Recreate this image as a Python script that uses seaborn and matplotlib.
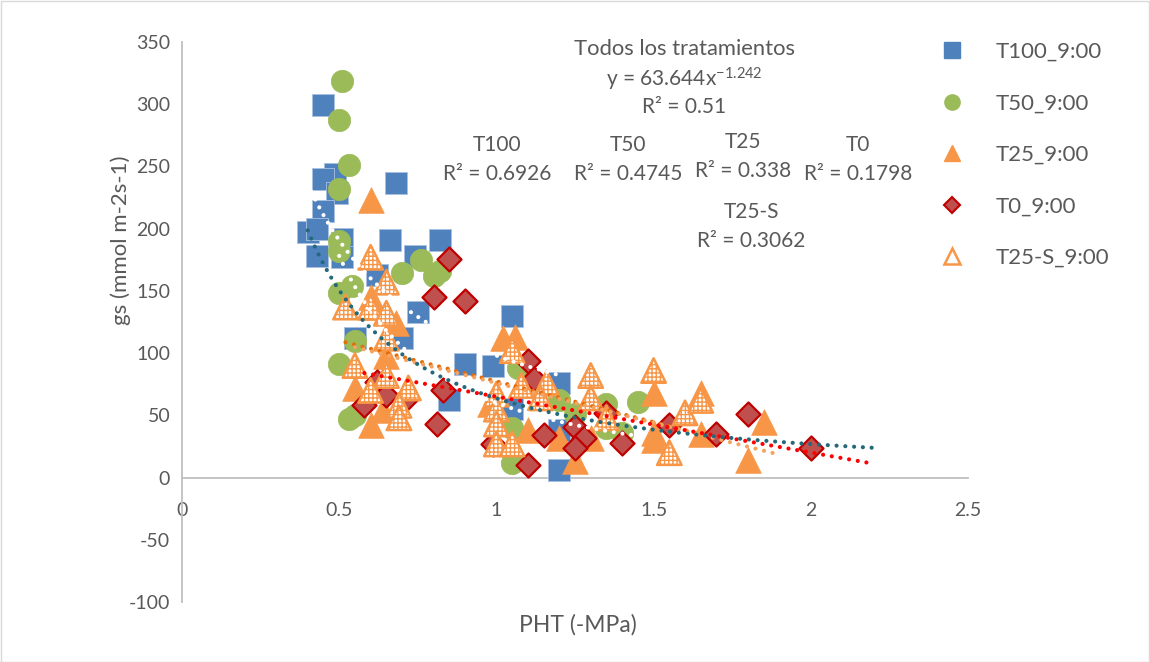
import numpy as np
import matplotlib
matplotlib.use("Agg")
import matplotlib.pyplot as plt
import seaborn as sns
from matplotlib.lines import Line2D
from matplotlib.patches import Rectangle

# ---- measured gs vs. PHT, one pair of lists per treatment ----
t100_x = [0.45, 0.486, 0.448, 0.492, 0.68, 0.448, 0.40, 0.43, 0.43, 0.51, 0.51, 0.66, 0.82,
          0.74, 0.62, 0.75, 0.55, 0.70, 0.90, 0.85, 0.99, 1.05, 1.05, 1.20, 1.20, 1.20]
t100_y = [299, 244, 240, 229, 237, 214, 197, 200, 178, 192, 177, 191, 191,
          178, 163, 133, 112, 112, 91, 62, 90, 130, 55, 76, 38, 6]

t50_x = [0.51, 0.50, 0.53, 0.50, 0.50, 0.50, 0.54, 0.50, 0.70, 0.76, 0.80, 0.82, 0.55,
         0.50, 0.55, 0.53, 1.07, 1.05, 1.05, 1.20, 1.25, 1.35, 1.35, 1.40, 1.45]
t50_y = [319, 287, 251, 232, 190, 182, 154, 148, 164, 175, 162, 166, 110,
         91, 50, 47, 88, 40, 12, 62, 51, 59, 40, 36, 61]

t25_x = [0.60, 0.60, 0.60, 0.68, 0.65, 0.55, 0.64, 0.60, 1.02, 1.06, 0.98, 1.10, 1.20,
         1.25, 1.30, 1.50, 1.50, 1.50, 1.65, 1.65, 1.80, 1.85]
t25_y = [223, 145, 137, 124, 98, 72, 54, 42, 112, 113, 59, 38, 32,
         13, 32, 68, 36, 30, 68, 35, 14, 45]

t0_x = [0.85, 0.80, 0.90, 0.62, 0.65, 0.58, 0.71, 0.83, 0.81, 1.10, 1.12, 0.99, 1.10, 1.15,
        1.25, 1.28, 1.25, 1.35, 1.40, 1.55, 1.70, 1.80, 2.00]
t0_y = [176, 145, 142, 77, 66, 58, 62, 70, 43, 94, 79, 27, 10, 34,
        41, 32, 24, 52, 28, 42, 35, 51, 24]

t25s_x = [0.60, 0.65, 0.52, 0.60, 0.65, 0.65, 0.55, 0.65, 0.60, 0.72, 0.69, 0.69,
          1.05, 1.00, 1.00, 1.00, 1.00, 1.05, 1.08, 1.16, 1.14, 1.30, 1.30, 1.35,
          1.50, 1.55, 1.60, 1.65]
t25s_y = [177, 157, 137, 137, 132, 112, 90, 82, 70, 72, 58, 48,
          102, 67, 55, 43, 27, 27, 74, 76, 64, 82, 64, 48,
          86, 20, 52, 62]

series_labels = ["T100_9:00", "T50_9:00", "T25_9:00", "T0_9:00", "T25-S_9:00"]

# ---- trend lines (coefficients as reported / fitted in the workbook) ----
all_coef, all_exp = 63.644, -1.242          # y = 63.644 x^-1.242, all treatments
all_range = (0.40, 2.20)
t100_pow = (98.0, -0.96, 0.40, 1.20)        # a, b, x0, x1
t50_pow = (60.0, -1.57, 0.50, 1.45)
t25_lin = (140.0, -64.0, 0.55, 1.90)        # intercept, slope, x0, x1
t25s_lin = (142.8, -65.5, 0.52, 1.65)
t0_lin = (110.1, -45.0, 0.58, 2.20)

x_ticks = [0, 0.5, 1, 1.5, 2, 2.5]
x_tick_labels = ["0", "0.5", "1", "1.5", "2", "2.5"]
y_ticks = [-100, -50, 0, 50, 100, 150, 200, 250, 300, 350]

# ---- style ----
sns.set_theme(style="white")
plt.rcParams['font.family'] = ['Lato', 'DejaVu Sans']
plt.rcParams['mathtext.fontset'] = 'custom'
plt.rcParams['mathtext.rm'] = 'Lato'
plt.rcParams['mathtext.default'] = 'regular'
plt.rcParams['axes.unicode_minus'] = False

TXT = "#595959"
AXC = "#BFBFBF"
BLUE = "#4F81BD"
GREEN = "#9BBB59"
ORANGE = "#F79646"
DORANGE = "#E46C0A"
RED_FILL = "#C0504D"
RED_EDGE = "#C00000"
TEAL = "#23697A"

W, H = 1150, 662
fig = plt.figure(figsize=(W / 100, H / 100), dpi=100)
ax = fig.add_axes([182 / W, 1 - 602 / H, (968 - 182) / W, (602 - 42) / H])

# ---- scatter series ----
sns.scatterplot(x=t100_x, y=t100_y, ax=ax, marker="s", s=260, color=BLUE,
                edgecolor="#A9C1E0", linewidth=0.6, legend=False, zorder=3)
sns.scatterplot(x=t50_x, y=t50_y, ax=ax, marker="o", s=260, color=GREEN,
                edgecolor=GREEN, linewidth=0.5, legend=False, zorder=3)
sns.scatterplot(x=t25_x, y=t25_y, ax=ax, marker="^", s=340, color=ORANGE,
                edgecolor=ORANGE, linewidth=0.5, legend=False, zorder=3)
sns.scatterplot(x=t0_x, y=t0_y, ax=ax, marker="D", s=150, color=RED_FILL,
                edgecolor=RED_EDGE, linewidth=1.6, legend=False, zorder=3)
sns.scatterplot(x=t25s_x, y=t25s_y, ax=ax, marker="^", s=310, facecolor="white",
                edgecolor=ORANGE, linewidth=1.8, hatch="++++", legend=False, zorder=3)

# ---- trend lines, round-dot style ----
dot = dict(linestyle=(0, (0.01, 2.1)), linewidth=3.0, dash_capstyle="round")


def power_line(a, b, x0, x1):
    xs = np.linspace(x0, x1, 200)
    return xs, a * xs ** b


def linear_line(c, m, x0, x1):
    xs = np.linspace(x0, x1, 2)
    return xs, c + m * xs


for (xs, ys), col in [
    (power_line(*t100_pow), "white"),
    (power_line(*t50_pow), "white"),
    (linear_line(*t25s_lin), DORANGE),
    (linear_line(*t25_lin), "#F4A460"),
    (linear_line(*t0_lin), "#FF0000"),
    (power_line(all_coef, all_exp, *all_range), TEAL),
]:
    ax.plot(xs, ys, color=col, zorder=5, **dot)

# ---- axes ----
ax.set_xlim(0, 2.5)
ax.set_ylim(-100, 350)
ax.set_xticks(x_ticks)
ax.set_xticklabels(x_tick_labels)
ax.set_yticks(y_ticks)
ax.spines["top"].set_visible(False)
ax.spines["right"].set_visible(False)
ax.spines["bottom"].set_position(("data", 0))
for s in ("left", "bottom"):
    ax.spines[s].set_color(AXC)
    ax.spines[s].set_linewidth(1.3)
ax.tick_params(axis="both", colors=AXC, labelcolor=TXT, labelsize=14,
               direction="out", length=4.5, width=1.2)
ax.tick_params(axis="x", pad=13)
ax.tick_params(axis="y", pad=4)
ax.set_xlabel("")
ax.set_ylabel("")
fig.text(121 / W, 1 - 240 / H, "gs (mmol m-2s-1)", rotation=90, ha="center",
         va="center", color=TXT, fontsize=16)
fig.text(578 / W, 1 - 625 / H, "PHT (-MPa)", ha="center", va="center",
         color=TXT, fontsize=16.5)

# ---- trend annotations ----
def label(px, py, s, size=15):
    fig.text(px / W, 1 - py / H, s, ha="center", va="center", color=TXT, fontsize=size)


label(685, 49, "Todos los tratamientos", 15.8)
label(684, 79, r"y = 63.644x$^{-1.242}$")
label(684, 107, "R² = 0.51")
label(497, 145, "T100")
label(497, 174, "R² = 0.6926")
label(628, 145, "T50")
label(628, 174, "R² = 0.4745")
label(743, 142, "T25")
label(743, 171, "R² = 0.338")
label(858, 145, "T0")
label(858, 174, "R² = 0.1798")
label(751, 212, "T25-S")
label(751, 241, "R² = 0.3062")

# ---- legend ----
handles = [
    Line2D([], [], linestyle="none", marker="s", markersize=11, color=BLUE),
    Line2D([], [], linestyle="none", marker="o", markersize=11, color=GREEN),
    Line2D([], [], linestyle="none", marker="^", markersize=12, color=ORANGE),
    Line2D([], [], linestyle="none", marker="D", markersize=8, markerfacecolor=RED_FILL,
           markeredgecolor=RED_EDGE, markeredgewidth=1.5),
    Line2D([], [], linestyle="none", marker="^", markersize=12, markerfacecolor="white",
           markeredgecolor=ORANGE, markeredgewidth=1.8),
]
leg = fig.legend(handles, series_labels, loc="upper left",
                 bbox_to_anchor=(930 / W, 1 - 33 / H), frameon=False,
                 fontsize=16, labelspacing=1.42, handletextpad=1.35,
                 handlelength=1.2, borderaxespad=0)
for t in leg.get_texts():
    t.set_color(TXT)

# chart-area border
fig.patches.append(Rectangle((0.5 / W, 0.5 / H), 1 - 1.5 / W, 1 - 1.5 / H,
                             transform=fig.transFigure, fill=False,
                             edgecolor="#D9D9D9", linewidth=1.0))

fig.savefig("out.png", dpi=100, facecolor="white")
